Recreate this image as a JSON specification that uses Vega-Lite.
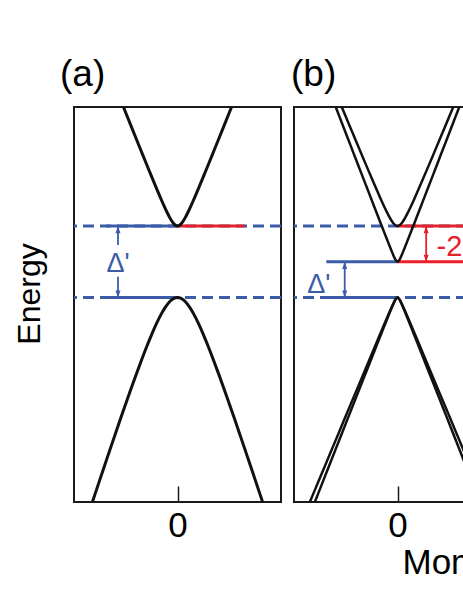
{
  "$schema": "https://vega.github.io/schema/vega-lite/v6.json",
  "background": "white",
  "padding": {"left": 12, "top": 55, "right": 0, "bottom": 0},
  "spacing": 6,
  "config": {
    "font": "Liberation Sans",
    "view": {"stroke": "#1a1a1a", "strokeWidth": 2},
    "axis": {"grid": false, "domain": false, "labelFont": "Liberation Sans", "titleFont": "Liberation Sans", "labelColor": "black", "titleColor": "black", "titleFontWeight": "normal"},
    "axisY": {"labels": false, "ticks": false, "titleFontSize": 32},
    "axisX": {"labelFontSize": 35, "labelBaseline": "alphabetic", "labelPadding": 50.5, "tickSize": -16, "tickColor": "#1a1a1a", "tickWidth": 1.5, "titleFontSize": 35},
    "title": {"font": "Liberation Sans", "fontSize": 37, "fontWeight": "normal", "color": "black", "anchor": "start", "frame": "group", "baseline": "alphabetic", "offset": 13}
  },
  "datasets": {
    "levelsA": [{"E": 0}, {"E": 2}],
    "levelsB": [{"E": 0}, {"E": 2}],
    "segA": [
      {"kind": "gap", "k1": -0.69, "k2": 0, "E": 2},
      {"kind": "gap", "k1": -0.69, "k2": 0, "E": 0},
      {"kind": "shift", "k1": 0, "k2": 0.65, "E": 2}
    ],
    "segB": [
      {"kind": "gap", "k1": -0.688, "k2": 0, "E": 1},
      {"kind": "gap", "k1": -0.688, "k2": 0, "E": 0},
      {"kind": "shift", "k1": 0, "k2": 0.7, "E": 2},
      {"kind": "shift", "k1": 0, "k2": 0.7, "E": 1}
    ],
    "shaftA": [
      {"kind": "gap", "k": -0.575, "E1": 1.47, "E2": 2.0},
      {"kind": "gap", "k": -0.575, "E1": 0, "E2": 0.58}
    ],
    "shaftB": [
      {"kind": "gap", "k": -0.51, "E1": 0, "E2": 1},
      {"kind": "shift", "k": 0.277, "E1": 1, "E2": 2}
    ],
    "headsA": [
      {"kind": "gap", "k": -0.575, "E": 2, "end": "top"},
      {"kind": "gap", "k": -0.575, "E": 0, "end": "bottom"}
    ],
    "headsB": [
      {"kind": "gap", "k": -0.51, "E": 1, "end": "top"},
      {"kind": "gap", "k": -0.51, "E": 0, "end": "bottom"},
      {"kind": "shift", "k": 0.277, "E": 2, "end": "top"},
      {"kind": "shift", "k": 0.277, "E": 1, "end": "bottom"}
    ],
    "textA": [
      {"kind": "gap", "k": -0.575, "E": 0.72, "label": "Δ'"}
    ],
    "textB": [
      {"kind": "gap", "k": -0.76, "E": 0.12, "label": "Δ'"}
    ],
    "textBshift": [
      {"kind": "shift", "k": 0.378, "E": 1.17, "label": "-2"}
    ],
    "bandsA": [
      {"band": "c", "k": -0.56, "E": 5.604}, {"band": "c", "k": -0.5, "E": 5.17}, {"band": "c", "k": -0.45, "E": 4.809}, {"band": "c", "k": -0.4, "E": 4.449}, {"band": "c", "k": -0.35, "E": 4.091}, {"band": "c", "k": -0.3, "E": 3.734}, {"band": "c", "k": -0.25, "E": 3.381}, {"band": "c", "k": -0.2, "E": 3.032}, {"band": "c", "k": -0.16, "E": 2.761}, {"band": "c", "k": -0.13, "E": 2.564}, {"band": "c", "k": -0.1, "E": 2.378}, {"band": "c", "k": -0.08, "E": 2.263}, {"band": "c", "k": -0.06, "E": 2.161}, {"band": "c", "k": -0.04, "E": 2.077}, {"band": "c", "k": -0.02, "E": 2.02}, {"band": "c", "k": 0, "E": 2.0},
      {"band": "c", "k": 0.02, "E": 2.02}, {"band": "c", "k": 0.04, "E": 2.077}, {"band": "c", "k": 0.06, "E": 2.161}, {"band": "c", "k": 0.08, "E": 2.263}, {"band": "c", "k": 0.1, "E": 2.378}, {"band": "c", "k": 0.13, "E": 2.564}, {"band": "c", "k": 0.16, "E": 2.761}, {"band": "c", "k": 0.2, "E": 3.032}, {"band": "c", "k": 0.25, "E": 3.381}, {"band": "c", "k": 0.3, "E": 3.734}, {"band": "c", "k": 0.35, "E": 4.091}, {"band": "c", "k": 0.4, "E": 4.449}, {"band": "c", "k": 0.45, "E": 4.809}, {"band": "c", "k": 0.5, "E": 5.17}, {"band": "c", "k": 0.56, "E": 5.604},
      {"band": "v", "k": -0.85, "E": -5.964}, {"band": "v", "k": -0.8, "E": -5.528}, {"band": "v", "k": -0.75, "E": -5.094}, {"band": "v", "k": -0.7, "E": -4.663}, {"band": "v", "k": -0.65, "E": -4.234}, {"band": "v", "k": -0.6, "E": -3.808}, {"band": "v", "k": -0.55, "E": -3.386}, {"band": "v", "k": -0.5, "E": -2.97}, {"band": "v", "k": -0.45, "E": -2.559}, {"band": "v", "k": -0.4, "E": -2.157}, {"band": "v", "k": -0.35, "E": -1.767}, {"band": "v", "k": -0.3, "E": -1.391}, {"band": "v", "k": -0.25, "E": -1.036}, {"band": "v", "k": -0.2, "E": -0.711}, {"band": "v", "k": -0.16, "E": -0.479}, {"band": "v", "k": -0.12, "E": -0.282}, {"band": "v", "k": -0.09, "E": -0.164}, {"band": "v", "k": -0.06, "E": -0.074}, {"band": "v", "k": -0.03, "E": -0.019}, {"band": "v", "k": 0, "E": 0},
      {"band": "v", "k": 0.03, "E": -0.019}, {"band": "v", "k": 0.06, "E": -0.074}, {"band": "v", "k": 0.09, "E": -0.164}, {"band": "v", "k": 0.12, "E": -0.282}, {"band": "v", "k": 0.16, "E": -0.479}, {"band": "v", "k": 0.2, "E": -0.711}, {"band": "v", "k": 0.25, "E": -1.036}, {"band": "v", "k": 0.3, "E": -1.391}, {"band": "v", "k": 0.35, "E": -1.767}, {"band": "v", "k": 0.4, "E": -2.157}, {"band": "v", "k": 0.45, "E": -2.559}, {"band": "v", "k": 0.5, "E": -2.97}, {"band": "v", "k": 0.55, "E": -3.386}, {"band": "v", "k": 0.6, "E": -3.808}, {"band": "v", "k": 0.65, "E": -4.234}, {"band": "v", "k": 0.7, "E": -4.663}, {"band": "v", "k": 0.75, "E": -5.094}, {"band": "v", "k": 0.8, "E": -5.528}, {"band": "v", "k": 0.85, "E": -5.964}
    ],
    "bandsB": [
      {"band": "c1", "k": -0.6, "E": 5.757}, {"band": "c1", "k": -0.56, "E": 5.479}, {"band": "c1", "k": -0.5, "E": 5.062}, {"band": "c1", "k": -0.45, "E": 4.716}, {"band": "c1", "k": -0.4, "E": 4.37}, {"band": "c1", "k": -0.35, "E": 4.026}, {"band": "c1", "k": -0.3, "E": 3.683}, {"band": "c1", "k": -0.25, "E": 3.343}, {"band": "c1", "k": -0.2, "E": 3.008}, {"band": "c1", "k": -0.16, "E": 2.745}, {"band": "c1", "k": -0.13, "E": 2.555}, {"band": "c1", "k": -0.1, "E": 2.374}, {"band": "c1", "k": -0.08, "E": 2.262}, {"band": "c1", "k": -0.06, "E": 2.161}, {"band": "c1", "k": -0.04, "E": 2.077}, {"band": "c1", "k": -0.02, "E": 2.021}, {"band": "c1", "k": 0, "E": 2.0},
      {"band": "c1", "k": 0.02, "E": 2.021}, {"band": "c1", "k": 0.04, "E": 2.077}, {"band": "c1", "k": 0.06, "E": 2.161}, {"band": "c1", "k": 0.08, "E": 2.262}, {"band": "c1", "k": 0.1, "E": 2.374}, {"band": "c1", "k": 0.13, "E": 2.555}, {"band": "c1", "k": 0.16, "E": 2.745}, {"band": "c1", "k": 0.2, "E": 3.008}, {"band": "c1", "k": 0.25, "E": 3.343}, {"band": "c1", "k": 0.3, "E": 3.683}, {"band": "c1", "k": 0.35, "E": 4.026}, {"band": "c1", "k": 0.4, "E": 4.37}, {"band": "c1", "k": 0.45, "E": 4.716}, {"band": "c1", "k": 0.5, "E": 5.062}, {"band": "c1", "k": 0.56, "E": 5.479}, {"band": "c1", "k": 0.6, "E": 5.757},
      {"band": "c2", "k": -0.64, "E": 5.652}, {"band": "c2", "k": -0.6, "E": 5.353}, {"band": "c2", "k": -0.56, "E": 5.053}, {"band": "c2", "k": -0.5, "E": 4.603}, {"band": "c2", "k": -0.45, "E": 4.228}, {"band": "c2", "k": -0.4, "E": 3.854}, {"band": "c2", "k": -0.35, "E": 3.479}, {"band": "c2", "k": -0.3, "E": 3.105}, {"band": "c2", "k": -0.25, "E": 2.731}, {"band": "c2", "k": -0.2, "E": 2.357}, {"band": "c2", "k": -0.16, "E": 2.059}, {"band": "c2", "k": -0.13, "E": 1.836}, {"band": "c2", "k": -0.1, "E": 1.615}, {"band": "c2", "k": -0.08, "E": 1.468}, {"band": "c2", "k": -0.06, "E": 1.324}, {"band": "c2", "k": -0.04, "E": 1.185}, {"band": "c2", "k": -0.02, "E": 1.062}, {"band": "c2", "k": 0, "E": 1.0},
      {"band": "c2", "k": 0.02, "E": 1.062}, {"band": "c2", "k": 0.04, "E": 1.185}, {"band": "c2", "k": 0.06, "E": 1.324}, {"band": "c2", "k": 0.08, "E": 1.468}, {"band": "c2", "k": 0.1, "E": 1.615}, {"band": "c2", "k": 0.13, "E": 1.836}, {"band": "c2", "k": 0.16, "E": 2.059}, {"band": "c2", "k": 0.2, "E": 2.357}, {"band": "c2", "k": 0.25, "E": 2.731}, {"band": "c2", "k": 0.3, "E": 3.105}, {"band": "c2", "k": 0.35, "E": 3.479}, {"band": "c2", "k": 0.4, "E": 3.854}, {"band": "c2", "k": 0.45, "E": 4.228}, {"band": "c2", "k": 0.5, "E": 4.603}, {"band": "c2", "k": 0.56, "E": 5.053}, {"band": "c2", "k": 0.6, "E": 5.353}, {"band": "c2", "k": 0.64, "E": 5.652},
      {"band": "v1", "k": -0.86, "E": -6.172}, {"band": "v1", "k": -0.8, "E": -5.731}, {"band": "v1", "k": -0.7, "E": -4.996}, {"band": "v1", "k": -0.6, "E": -4.262}, {"band": "v1", "k": -0.5, "E": -3.527}, {"band": "v1", "k": -0.4, "E": -2.793}, {"band": "v1", "k": -0.3, "E": -2.06}, {"band": "v1", "k": -0.2, "E": -1.327}, {"band": "v1", "k": -0.15, "E": -0.962}, {"band": "v1", "k": -0.1, "E": -0.6}, {"band": "v1", "k": -0.07, "E": -0.386}, {"band": "v1", "k": -0.04, "E": -0.18}, {"band": "v1", "k": -0.02, "E": -0.06}, {"band": "v1", "k": 0, "E": 0},
      {"band": "v1", "k": 0.02, "E": -0.06}, {"band": "v1", "k": 0.04, "E": -0.18}, {"band": "v1", "k": 0.07, "E": -0.386}, {"band": "v1", "k": 0.1, "E": -0.6}, {"band": "v1", "k": 0.15, "E": -0.962}, {"band": "v1", "k": 0.2, "E": -1.327}, {"band": "v1", "k": 0.3, "E": -2.06}, {"band": "v1", "k": 0.4, "E": -2.793}, {"band": "v1", "k": 0.5, "E": -3.527}, {"band": "v1", "k": 0.6, "E": -4.262}, {"band": "v1", "k": 0.7, "E": -4.996}, {"band": "v1", "k": 0.8, "E": -5.731}, {"band": "v1", "k": 0.86, "E": -6.172},
      {"band": "v2", "k": -0.9, "E": -6.087}, {"band": "v2", "k": -0.8, "E": -5.395}, {"band": "v2", "k": -0.7, "E": -4.702}, {"band": "v2", "k": -0.6, "E": -4.01}, {"band": "v2", "k": -0.5, "E": -3.317}, {"band": "v2", "k": -0.4, "E": -2.625}, {"band": "v2", "k": -0.3, "E": -1.934}, {"band": "v2", "k": -0.2, "E": -1.244}, {"band": "v2", "k": -0.15, "E": -0.9}, {"band": "v2", "k": -0.1, "E": -0.559}, {"band": "v2", "k": -0.07, "E": -0.358}, {"band": "v2", "k": -0.04, "E": -0.165}, {"band": "v2", "k": -0.02, "E": -0.054}, {"band": "v2", "k": 0, "E": 0},
      {"band": "v2", "k": 0.02, "E": -0.054}, {"band": "v2", "k": 0.04, "E": -0.165}, {"band": "v2", "k": 0.07, "E": -0.358}, {"band": "v2", "k": 0.1, "E": -0.559}, {"band": "v2", "k": 0.15, "E": -0.9}, {"band": "v2", "k": 0.2, "E": -1.244}, {"band": "v2", "k": 0.3, "E": -1.934}, {"band": "v2", "k": 0.4, "E": -2.625}, {"band": "v2", "k": 0.5, "E": -3.317}, {"band": "v2", "k": 0.6, "E": -4.01}, {"band": "v2", "k": 0.7, "E": -4.702}, {"band": "v2", "k": 0.8, "E": -5.395}, {"band": "v2", "k": 0.9, "E": -6.087}
    ]
  },
  "hconcat": [
    {
      "width": 207,
      "height": 395,
      "title": {"text": "(a)", "dx": -14},
      "layer": [
        {
          "data": {"name": "levelsA"},
          "mark": {"type": "rule", "color": "#3c5ca8", "strokeWidth": 3, "strokeDash": [11, 6]},
          "encoding": {
            "y": {"field": "E", "type": "quantitative", "scale": {"domain": [-5.72, 5.33], "nice": false, "zero": false}, "axis": {"title": "Energy", "titleX": -34.5, "titleY": 186.5, "titleAngle": 270, "titleBaseline": "alphabetic", "titleAlign": "center"}}
          }
        },
        {
          "data": {"name": "segA"},
          "mark": {"type": "rule", "strokeWidth": 3},
          "encoding": {
            "x": {"field": "k1", "type": "quantitative", "scale": {"domain": [-1, 1], "nice": false, "zero": false}, "axis": {"title": null, "values": [0]}},
            "x2": {"field": "k2"},
            "y": {"field": "E", "type": "quantitative", "scale": {"domain": [-5.72, 5.33], "nice": false, "zero": false}, "axis": {"title": "Energy", "titleX": -34.5, "titleY": 186.5, "titleAngle": 270, "titleBaseline": "alphabetic", "titleAlign": "center"}},
            "color": {"field": "kind", "type": "nominal", "scale": {"domain": ["gap", "shift"], "range": ["#3c5ca8", "#e8202a"]}, "legend": null}
          }
        },
        {
          "data": {"name": "shaftA"},
          "mark": {"type": "rule", "strokeWidth": 1.8},
          "encoding": {
            "x": {"field": "k", "type": "quantitative", "scale": {"domain": [-1, 1], "nice": false, "zero": false}, "axis": {"title": null, "values": [0]}},
            "y": {"field": "E1", "type": "quantitative", "scale": {"domain": [-5.72, 5.33], "nice": false, "zero": false}, "axis": {"title": "Energy", "titleX": -34.5, "titleY": 186.5, "titleAngle": 270, "titleBaseline": "alphabetic", "titleAlign": "center"}},
            "y2": {"field": "E2"},
            "color": {"field": "kind", "type": "nominal", "scale": {"domain": ["gap", "shift"], "range": ["#3c5ca8", "#e8202a"]}, "legend": null}
          }
        },
        {
          "data": {"name": "headsA"},
          "mark": {"type": "point", "filled": true, "opacity": 1, "size": 70, "strokeWidth": 0},
          "encoding": {
            "x": {"field": "k", "type": "quantitative", "scale": {"domain": [-1, 1], "nice": false, "zero": false}, "axis": {"title": null, "values": [0]}},
            "y": {"field": "E", "type": "quantitative", "scale": {"domain": [-5.72, 5.33], "nice": false, "zero": false}, "axis": {"title": "Energy", "titleX": -34.5, "titleY": 186.5, "titleAngle": 270, "titleBaseline": "alphabetic", "titleAlign": "center"}},
            "shape": {"field": "end", "type": "nominal", "scale": {"domain": ["top", "bottom"], "range": ["M0,0L0.6,1.7L-0.6,1.7Z", "M0,0L0.6,-1.7L-0.6,-1.7Z"]}, "legend": null},
            "color": {"field": "kind", "type": "nominal", "scale": {"domain": ["gap", "shift"], "range": ["#3c5ca8", "#e8202a"]}, "legend": null}
          }
        },
        {
          "data": {"name": "textA"},
          "mark": {"type": "text", "font": "Liberation Sans", "fontSize": 27, "align": "center", "baseline": "alphabetic"},
          "encoding": {
            "x": {"field": "k", "type": "quantitative", "scale": {"domain": [-1, 1], "nice": false, "zero": false}, "axis": {"title": null, "values": [0]}},
            "y": {"field": "E", "type": "quantitative", "scale": {"domain": [-5.72, 5.33], "nice": false, "zero": false}, "axis": {"title": "Energy", "titleX": -34.5, "titleY": 186.5, "titleAngle": 270, "titleBaseline": "alphabetic", "titleAlign": "center"}},
            "text": {"field": "label"},
            "color": {"field": "kind", "type": "nominal", "scale": {"domain": ["gap", "shift"], "range": ["#3c5ca8", "#e8202a"]}, "legend": null}
          }
        },
        {
          "data": {"name": "bandsA"},
          "mark": {"type": "line", "color": "#111111", "strokeWidth": 3, "clip": true, "interpolate": "monotone"},
          "encoding": {
            "x": {"field": "k", "type": "quantitative", "scale": {"domain": [-1, 1], "nice": false, "zero": false}, "axis": {"title": null, "values": [0]}},
            "y": {"field": "E", "type": "quantitative", "scale": {"domain": [-5.72, 5.33], "nice": false, "zero": false}, "axis": {"title": "Energy", "titleX": -34.5, "titleY": 186.5, "titleAngle": 270, "titleBaseline": "alphabetic", "titleAlign": "center"}},
            "detail": {"field": "band", "type": "nominal"}
          }
        }
      ]
    },
    {
      "width": 207,
      "height": 395,
      "title": {"text": "(b)", "dx": -3},
      "layer": [
        {
          "data": {"name": "levelsB"},
          "mark": {"type": "rule", "color": "#3c5ca8", "strokeWidth": 3, "strokeDash": [11, 6]},
          "encoding": {
            "y": {"field": "E", "type": "quantitative", "scale": {"domain": [-5.72, 5.33], "nice": false, "zero": false}, "axis": null}
          }
        },
        {
          "data": {"name": "segB"},
          "mark": {"type": "rule", "strokeWidth": 3},
          "encoding": {
            "x": {"field": "k1", "type": "quantitative", "scale": {"domain": [-1, 1], "nice": false, "zero": false}, "axis": {"title": "Momentum", "values": [0], "titleX": 108, "titleY": 71, "titleAlign": "left", "titleBaseline": "alphabetic", "titleAngle": 0}},
            "x2": {"field": "k2"},
            "y": {"field": "E", "type": "quantitative", "scale": {"domain": [-5.72, 5.33], "nice": false, "zero": false}, "axis": null},
            "color": {"field": "kind", "type": "nominal", "scale": {"domain": ["gap", "shift"], "range": ["#3c5ca8", "#e8202a"]}, "legend": null}
          }
        },
        {
          "data": {"name": "shaftB"},
          "mark": {"type": "rule", "strokeWidth": 1.8},
          "encoding": {
            "x": {"field": "k", "type": "quantitative", "scale": {"domain": [-1, 1], "nice": false, "zero": false}, "axis": {"title": "Momentum", "values": [0], "titleX": 108, "titleY": 71, "titleAlign": "left", "titleBaseline": "alphabetic", "titleAngle": 0}},
            "y": {"field": "E1", "type": "quantitative", "scale": {"domain": [-5.72, 5.33], "nice": false, "zero": false}, "axis": null},
            "y2": {"field": "E2"},
            "color": {"field": "kind", "type": "nominal", "scale": {"domain": ["gap", "shift"], "range": ["#3c5ca8", "#e8202a"]}, "legend": null}
          }
        },
        {
          "data": {"name": "headsB"},
          "mark": {"type": "point", "filled": true, "opacity": 1, "size": 70, "strokeWidth": 0},
          "encoding": {
            "x": {"field": "k", "type": "quantitative", "scale": {"domain": [-1, 1], "nice": false, "zero": false}, "axis": {"title": "Momentum", "values": [0], "titleX": 108, "titleY": 71, "titleAlign": "left", "titleBaseline": "alphabetic", "titleAngle": 0}},
            "y": {"field": "E", "type": "quantitative", "scale": {"domain": [-5.72, 5.33], "nice": false, "zero": false}, "axis": null},
            "shape": {"field": "end", "type": "nominal", "scale": {"domain": ["top", "bottom"], "range": ["M0,0L0.6,1.7L-0.6,1.7Z", "M0,0L0.6,-1.7L-0.6,-1.7Z"]}, "legend": null},
            "color": {"field": "kind", "type": "nominal", "scale": {"domain": ["gap", "shift"], "range": ["#3c5ca8", "#e8202a"]}, "legend": null}
          }
        },
        {
          "data": {"name": "textB"},
          "mark": {"type": "text", "font": "Liberation Sans", "fontSize": 27, "align": "center", "baseline": "alphabetic"},
          "encoding": {
            "x": {"field": "k", "type": "quantitative", "scale": {"domain": [-1, 1], "nice": false, "zero": false}, "axis": {"title": "Momentum", "values": [0], "titleX": 108, "titleY": 71, "titleAlign": "left", "titleBaseline": "alphabetic", "titleAngle": 0}},
            "y": {"field": "E", "type": "quantitative", "scale": {"domain": [-5.72, 5.33], "nice": false, "zero": false}, "axis": null},
            "text": {"field": "label"},
            "color": {"field": "kind", "type": "nominal", "scale": {"domain": ["gap", "shift"], "range": ["#3c5ca8", "#e8202a"]}, "legend": null}
          }
        },
        {
          "data": {"name": "textBshift"},
          "mark": {"type": "text", "font": "Liberation Sans", "fontSize": 29, "align": "left", "baseline": "alphabetic"},
          "encoding": {
            "x": {"field": "k", "type": "quantitative", "scale": {"domain": [-1, 1], "nice": false, "zero": false}, "axis": {"title": "Momentum", "values": [0], "titleX": 108, "titleY": 71, "titleAlign": "left", "titleBaseline": "alphabetic", "titleAngle": 0}},
            "y": {"field": "E", "type": "quantitative", "scale": {"domain": [-5.72, 5.33], "nice": false, "zero": false}, "axis": null},
            "text": {"field": "label"},
            "color": {"field": "kind", "type": "nominal", "scale": {"domain": ["gap", "shift"], "range": ["#3c5ca8", "#e8202a"]}, "legend": null}
          }
        },
        {
          "data": {"name": "bandsB"},
          "mark": {"type": "line", "color": "#111111", "strokeWidth": 2.5, "clip": true, "interpolate": "monotone"},
          "encoding": {
            "x": {"field": "k", "type": "quantitative", "scale": {"domain": [-1, 1], "nice": false, "zero": false}, "axis": {"title": "Momentum", "values": [0], "titleX": 108, "titleY": 71, "titleAlign": "left", "titleBaseline": "alphabetic", "titleAngle": 0}},
            "y": {"field": "E", "type": "quantitative", "scale": {"domain": [-5.72, 5.33], "nice": false, "zero": false}, "axis": null},
            "detail": {"field": "band", "type": "nominal"}
          }
        }
      ]
    }
  ]
}
